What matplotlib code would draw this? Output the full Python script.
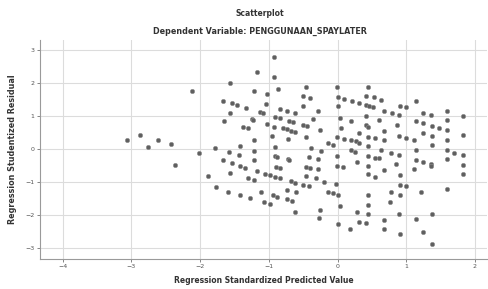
import numpy as np
import matplotlib
matplotlib.use("Agg")
import matplotlib.pyplot as plt

TITLE = "Scatterplot"
SUBTITLE = "Dependent Variable: PENGGUNAAN_SPAYLATER"
XLABEL = "Regression Standardized Predicted Value"
YLABEL = "Regression Studentized Residual"

xticks = [-4, -3, -2, -1, 0, 1, 2]
yticks = [-3, -2, -1, 0, 1, 2, 3]

# predicted value (x) and studentized residual (y)
pred = [
    -0.93, -1.17, -0.93, -1.57, -2.12, -1.21, -0.86, -1.03, -1.66, -1.54,
    -1.46, -1.33, -1.04, -0.84, -0.73, -0.62, -1.57, -1.13, -1.08, -0.91,
    -0.84, -1.65, -1.25, -1.23, -0.70, -0.65, -1.37, -1.30, -1.03, -0.93,
    -0.79, -0.74, -0.67, -0.96, -1.21, -0.72, -3.07, -2.87, -2.62, -2.76,
    -2.42, -2.37, -2.01, -1.79, -1.58, -1.42, -1.21, -1.43, -0.91, -0.91,
    -0.88, -1.66, -1.54, -1.42, -1.35, -1.21, -0.90, -0.84, -0.72, -0.70,
    -1.56, -1.17, -1.05, -0.99, -0.91, -0.84, -1.88, -1.31, -1.21, -0.67,
    -0.62, -1.77, -1.60, -1.42, -1.28, -1.11, -0.94, -0.88, -0.73, -0.73,
    -0.66, -1.07, -0.99, -0.62,
    -0.46, -0.01, 0.45, -0.50, -0.40, 0.00, 0.10, 0.21, 0.32, 0.41,
    0.46, 0.51, 0.41, 0.53, 0.64, 1.14, -0.50, 0.00, 0.91, 1.00,
    -0.29, 0.68, 0.79, 0.90, 1.24, 1.36, 1.60, 1.83, -0.50, -0.45,
    -0.36, 0.03, 0.19, 0.42, 0.61, 0.86, 1.14, 1.25, 1.37, 1.48,
    1.60, -0.62, -0.46, -0.26, 0.05, 0.41, 0.45, 0.32, 0.68, 0.90,
    1.00, 1.12, 1.25, 1.37, 1.60, 1.83, -0.14, -0.06, -0.01, 0.10,
    0.19, 0.27, 0.32, 0.45, 0.54, 0.68, 1.37, 1.60, -0.38, -0.24,
    0.19, 0.25, 0.45, 0.63, 0.78, 0.90, 1.14, 1.60, 1.70, 1.83,
    -0.42, -0.29, -0.01, 0.45, 0.54, 0.61, 1.14, 1.25, 1.36, 1.60,
    1.83, -0.46, -0.40, -0.29, -0.01, 0.08, 0.29, 0.45, 0.67, 0.85,
    1.12, 1.36, 1.83, -0.46, -0.32, -0.19, -0.50, -0.42, -0.02, 0.44,
    0.54, 0.91, 0.91, 1.00, -0.61, -0.14, -0.07, 0.00, 0.45, 0.78,
    0.91, 1.22, 1.60, 0.03, 0.45, 0.76, -0.25, 0.29, 0.45, 0.89,
    1.37, -0.27, 0.00, 0.32, 0.42, 0.68, 1.14, 0.18, 0.67, 0.91,
    1.25, 1.37,
]
resid = [
    2.78, 2.33, 2.18, 1.99, 1.76, 1.76, 1.82, 1.66, 1.45, 1.39,
    1.33, 1.24, 1.37, 1.22, 1.16, 1.10, 1.09, 1.13, 1.10, 0.97,
    0.93, 0.84, 0.90, 0.87, 0.85, 0.82, 0.68, 0.63, 0.75, 0.66,
    0.63, 0.60, 0.56, 0.41, 0.28, 0.30, 0.28, 0.43, 0.28, 0.06,
    0.14, -0.49, -0.12, 0.04, -0.08, 0.10, -0.05, -0.18, 0.06, -0.21,
    -0.23, -0.33, -0.41, -0.51, -0.56, -0.33, -0.53, -0.56, -0.31, -0.33,
    -0.71, -0.65, -0.75, -0.78, -0.83, -0.86, -0.80, -0.86, -0.93, -0.96,
    -1.01, -1.16, -1.29, -1.39, -1.47, -1.29, -1.39, -1.44, -1.23, -1.51,
    -1.57, -1.61, -1.66, -1.89,
    1.89, 1.89, 1.89, 1.61, 1.54, 1.57, 1.51, 1.44, 1.39, 1.34,
    1.29, 1.27, 1.61, 1.56, 1.49, 1.46, 1.31, 1.29, 1.31, 1.26,
    1.16, 1.16, 1.10, 1.03, 1.10, 1.03, 1.16, 1.00, 0.73, 0.70,
    0.90, 0.95, 0.86, 1.00, 0.88, 0.73, 0.85, 0.80, 0.70, 0.63,
    0.88, 0.53, 0.38, 0.58, 0.63, 0.73, 0.68, 0.48, 0.56, 0.40,
    0.35, 0.28, 0.50, 0.41, 0.58, 0.43, 0.18, 0.13, 0.38, 0.31,
    0.28, 0.23, 0.18, 0.38, 0.35, 0.28, 0.11, 0.28, 0.03, -0.05,
    -0.02, -0.08, 0.10, -0.02, -0.12, -0.18, -0.02, -0.02, -0.11, -0.18,
    -0.25, -0.31, -0.21, -0.21, -0.26, -0.28, -0.33, -0.40, -0.46, -0.31,
    -0.48, -0.53, -0.58, -0.61, -0.50, -0.55, -0.40, -0.51, -0.63, -0.46,
    -0.61, -0.50, -0.76, -0.81, -0.86, -0.98, -1.08, -1.13, -1.06, -0.76,
    -0.83, -0.78, -1.08, -1.13, -1.29, -1.29, -1.33, -1.39, -1.39, -1.29,
    -1.39, -1.29, -1.21, -1.71, -1.69, -1.61, -1.84, -1.89, -1.97, -1.97,
    -1.97, -2.09, -2.27, -2.19, -2.24, -2.14, -2.12, -2.42, -2.41, -2.57,
    -2.50, -2.87,
]

fig = plt.figure(figsize=(4.89, 2.89), dpi=100)
ax = fig.add_axes([0.082, 0.104, 0.913, 0.758])

ax.scatter(pred, resid, s=10, color="#5f5f5f", edgecolors="#909090",
           linewidths=0.4, zorder=3)

ax.set_xlim(-4.33, 2.17)
ax.set_ylim(-3.32, 3.30)
ax.set_xticks(xticks)
ax.set_yticks(yticks)
ax.grid(True, color="#dcdcdc", linewidth=0.8, zorder=0)
ax.set_axisbelow(True)

for s in ["top", "right"]:
    ax.spines[s].set_visible(False)
for s in ["left", "bottom"]:
    ax.spines[s].set_color("#9a9a9a")
    ax.spines[s].set_linewidth(0.8)

ax.tick_params(labelsize=4.5, colors="#555555", length=2, width=0.5, pad=2)

ax.set_xlabel(XLABEL, fontsize=5.5, fontweight="bold", color="#333333", labelpad=5)
ax.set_ylabel(YLABEL, fontsize=5.8, fontweight="bold", color="#333333", labelpad=6)

fig.text(0.532, 0.955, TITLE, ha="center", va="center", fontsize=5.5,
         fontweight="bold", color="#333333")
fig.text(0.532, 0.89, SUBTITLE, ha="center", va="center", fontsize=5.8,
         fontweight="bold", color="#333333")

fig.savefig("out.png", dpi=100)
